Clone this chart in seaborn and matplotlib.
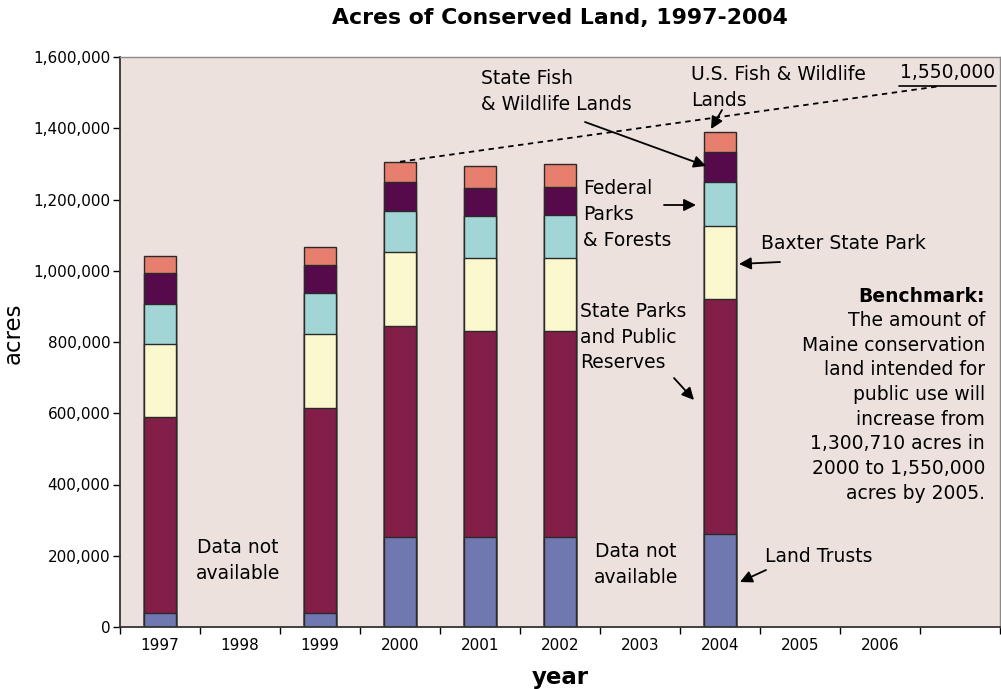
import numpy as np
import pandas as pd
import matplotlib
matplotlib.use("Agg")
import matplotlib.pyplot as plt
import seaborn as sns

# Year slots on the axis (last slot is an unlabeled spacer)
slots = ["1997", "1998", "1999", "2000", "2001", "2002", "2003", "2004", "2005", "2006", ""]
years = ["1997", "1999", "2000", "2001", "2002", "2004"]

# Acres by land type (bottom to top of each stack)
land_trusts = [40000, 40000, 252000, 254000, 252000, 262000]
state_parks = [550000, 574000, 594000, 577000, 578000, 660000]
baxter = [204000, 208000, 207000, 204000, 205000, 204000]
federal = [112000, 115000, 115000, 118000, 121000, 123000]
state_fish = [87000, 78000, 80000, 79000, 80000, 85000]
us_fish = [49000, 53000, 58000, 63000, 63000, 55000]

layers = ["Land Trusts", "State Parks and Public Reserves", "Baxter State Park",
          "Federal Parks & Forests", "State Fish & Wildlife Lands", "U.S. Fish & Wildlife Lands"]
colors = ["#6F78B1", "#831E48", "#FAF8CC", "#A2D6D6", "#560A4C", "#E77F6E"]

df = pd.DataFrame({"year": years})
for name, vals in zip(layers, [land_trusts, state_parks, baxter, federal, state_fish, us_fish]):
    df[name] = vals
cum = df[layers].cumsum(axis=1)
cum["year"] = df["year"]

sns.set_style("white")
plt.rcParams["font.family"] = ["DejaVu Sans"]
plt.rcParams["text.color"] = "black"
plt.rcParams["xtick.color"] = "black"
plt.rcParams["ytick.color"] = "black"
plt.rcParams["axes.labelcolor"] = "black"

fig = plt.figure(figsize=(10.01, 6.89), dpi=100)
ax = fig.add_axes([120 / 1001, 62 / 689, 880 / 1001, 570 / 689])
ax.set_facecolor("#EDE1DE")

# overlay cumulative bars from top layer down to fake a stack
for name, c in reversed(list(zip(layers, colors))):
    sns.barplot(data=cum, x="year", y=name, order=slots, color=c, saturation=1,
                width=0.41, edgecolor="#2a2a2a", linewidth=1, errorbar=None, ax=ax)

ax.set_xlim(-0.5, 10.5)
ax.set_ylim(0, 1600000)
ax.set_yticks(np.arange(0, 1600001, 200000))
ax.set_yticklabels([f"{v:,}" for v in range(0, 1600001, 200000)], fontsize=11)
ax.tick_params(axis="y", length=5, width=1, direction="out", pad=2, left=True)

ax.set_xticks(np.arange(-0.5, 11, 1))
ax.set_xticklabels([])
ax.set_xticks(range(11), minor=True)
ax.set_xticklabels(slots, minor=True, fontsize=11)
ax.tick_params(axis="x", which="major", length=5, width=1, direction="out", bottom=True)
ax.tick_params(axis="x", which="minor", length=0, pad=8)

for s in ["left", "bottom"]:
    ax.spines[s].set_color("#333333")
    ax.spines[s].set_linewidth(1.3)
for s in ["top", "right"]:
    ax.spines[s].set_color("#8a8a8a")
    ax.spines[s].set_linewidth(1)

ax.set_xlabel("year", fontsize=16.5, fontweight="bold", labelpad=9)
ax.set_ylabel("")
fig.text(13 / 1001, 1 - 333 / 689, "acres", rotation=90, fontsize=16.5, ha="center", va="center")
fig.text(560 / 1001, 1 - 18 / 689, "Acres of Conserved Land, 1997-2004",
         ha="center", va="center", fontsize=15.8, fontweight="bold")


def fp(x, y):
    return (x / 1001, 1 - y / 689)


arrow = dict(arrowstyle="-|>", color="black", lw=1.3, mutation_scale=18, shrinkA=0, shrinkB=0)
fs = 13.5

def note(text, tx, ty, ax0=None, ay0=None, ax1=None, ay1=None, **kw):
    fig.text(*fp(tx, ty), text, fontsize=fs, va="top", linespacing=1.45, **kw)
    if ax0 is not None:
        ax.annotate("", xy=fp(ax1, ay1), xytext=fp(ax0, ay0), xycoords="figure fraction",
                    textcoords="figure fraction", arrowprops=arrow)


note("State Fish\n& Wildlife Lands", 481, 69, 585, 122, 706, 166)
note("U.S. Fish & Wildlife\nLands", 691, 65, 722, 110, 711, 129)
note("Federal\nParks\n& Forests", 583, 179, 664, 205, 696, 205)
note("Baxter State Park", 761, 234, 780, 262, 739, 264)
note("State Parks\nand Public\nReserves", 580, 302, 674, 378, 694, 400)
note("Land Trusts", 765, 547, 766, 570, 740, 582)
note("Data not\navailable", 238, 538, ha="center")
note("Data not\navailable", 636, 542, ha="center")

fig.text(*fp(985, 287), "Benchmark:", fontsize=fs, fontweight="bold", ha="right", va="top")
fig.text(*fp(985, 311), "The amount of\nMaine conservation\nland intended for\npublic use will\n"
         "increase from\n1,300,710 acres in\n2000 to 1,550,000\nacres by 2005.",
         fontsize=fs, ha="right", va="top", linespacing=1.38)

# benchmark target line
fig.text(*fp(948, 73), "1,550,000", fontsize=fs, ha="center", va="center")
ax.plot([9.24, 10.45], [1519000, 1519000], color="black", lw=1.2, clip_on=False)
ax.plot([3, 9.71], [cum.loc[cum["year"] == "2000", layers[-1]].iloc[0], 1517000],
        color="black", lw=1.3, ls=(0, (3, 2.5)))

fig.savefig("out.png", dpi=100)
